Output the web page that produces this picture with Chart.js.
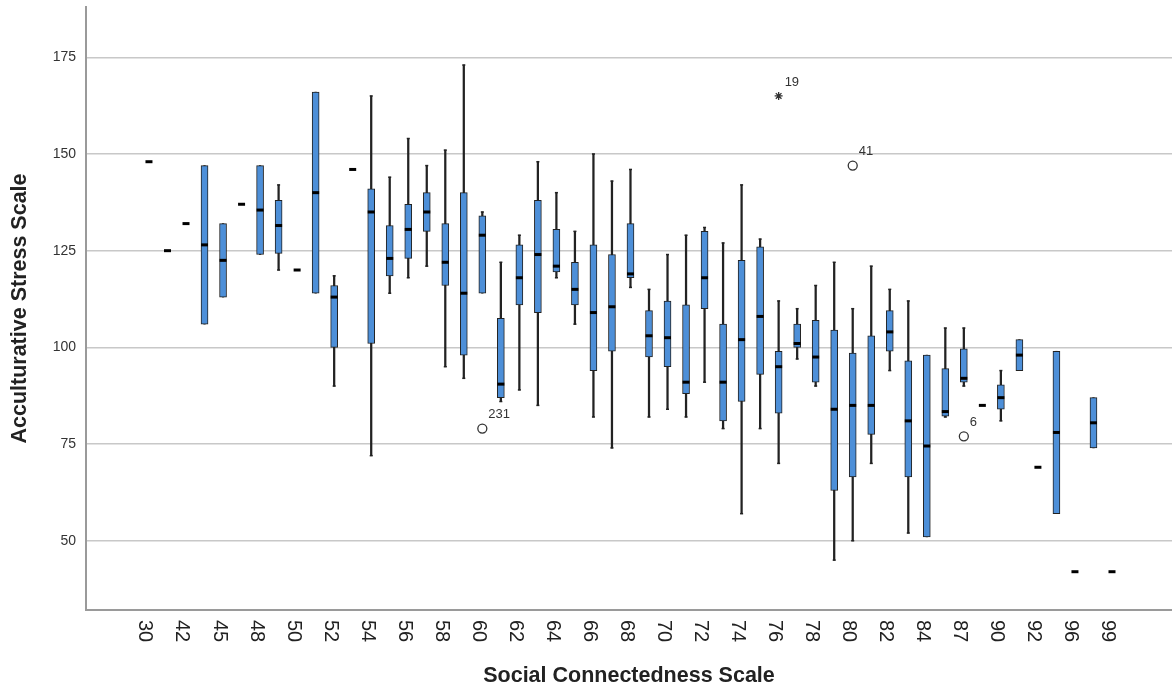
<!DOCTYPE html>
<html>
<head>
<meta charset="utf-8">
<script src="https://cdn.jsdelivr.net/npm/chart.js@4.4.0/dist/chart.umd.min.js"></script>
<style>
  html, body { margin: 0; padding: 0; background: #fff; }
  #wrap { width: 1172px; height: 690px; position: relative; }
</style>
</head>
<body>
<div id="wrap"><canvas id="boxChart"></canvas></div>
<script>
// Social Connectedness Scale groups (only every other one gets a printed label)
const categories = ['30', '41', '42', '44', '45', '47', '48', '49', '50', '51',
  '52', '53', '54', '55', '56', '57', '58', '59', '60', '61',
  '62', '63', '64', '65', '66', '67', '68', '69', '70', '71',
  '72', '73', '74', '75', '76', '77', '78', '79', '80', '81',
  '82', '83', '84', '85', '87', '88', '90', '91', '92', '94',
  '96', '97', '99'];

// box plot statistics per group (null = only one case in the group)
const whiskerLow = [null, null, null, 106, 113, null, 124, 120, null, 114,
  90, null, 72, 114, 118, 121, 95, 92, 114, 86,
  89, 85, 118, 106, 82, 74, 115.5, 82, 84, 82,
  91, 79, 57, 79, 70, 97, 90, 45, 50, 70,
  94, 52, 51, 82, 90, null, 81, 94, null, 57,
  null, 74, null];
const q1 = [null, null, null, 106, 113, null, 124, 124.3, null, 114,
  100, null, 101, 118.5, 123, 130, 116, 98, 114, 87,
  111, 109, 119.5, 111, 94, 99, 118, 97.5, 95, 88,
  110, 81, 86, 93, 83, 100, 91, 63, 66.5, 77.5,
  99, 66.5, 51, 82.2, 91, null, 84, 94, null, 57,
  null, 74, null];
const median = [148, 125, 132, 126.5, 122.5, 137, 135.5, 131.5, 120, 140,
  113, 146, 135, 123, 130.5, 135, 122, 114, 129, 90.5,
  118, 124, 121, 115, 109, 110.5, 119, 103, 102.5, 91,
  118, 91, 102, 108, 95, 101, 97.5, 84, 85, 85,
  104, 81, 74.5, 83.4, 92, 85, 87, 98, 69, 78,
  42, 80.5, 42];
const q3 = [null, null, null, 147, 132, null, 147, 138, null, 166,
  116, null, 141, 131.5, 137, 140, 132, 140, 134, 107.5,
  126.5, 138, 130.5, 122, 126.5, 124, 132, 109.5, 112, 111,
  130, 106, 122.5, 126, 99, 106, 107, 104.5, 98.5, 103,
  109.5, 96.5, 98, 94.5, 99.6, null, 90.3, 102, null, 99,
  null, 87, null];
const whiskerHigh = [null, null, null, 147, 132, null, 147, 142, null, 166,
  118.5, null, 165, 144, 154, 147, 151, 173, 135, 122,
  129, 148, 140, 130, 150, 143, 146, 115, 124, 129,
  131, 127, 142, 128, 112, 110, 116, 122, 110, 121,
  115, 112, 98, 105, 105, null, 94, 102, null, 99,
  null, 87, null];

// outlying cases: group index, value, case id, extreme (*) or not (o)
const outlierGroup = [18, 34, 38, 44];
const outlierValue = [79, 165, 147, 77];
const outlierCase = ['231', '19', '41', '6'];
const outlierExtreme = [false, true, false, false];

const yTicks = [50, 75, 100, 125, 150, 175];

const FONT = "'Liberation Sans', Arial, sans-serif";

const whiskerData = [];
const boxData = [];
const capData = [];
const medianData = [];
categories.forEach((c, i) => {
  medianData.push({ x: i, y: median[i] });
  if (q1[i] === null) return;
  boxData.push({ x: i, y: [q1[i], q3[i]] });
  whiskerData.push({ x: i, y: [whiskerLow[i], whiskerHigh[i]] });
  if (whiskerLow[i] < q1[i]) capData.push({ x: i, y: whiskerLow[i] });
  if (whiskerHigh[i] > q3[i]) capData.push({ x: i, y: whiskerHigh[i] });
});
const outlierData = outlierGroup.map((g, k) => ({ x: g, y: outlierValue[k] }));

// rotated group labels under the axis (reading top to bottom)
const groupLabels = {
  id: 'groupLabels',
  afterDraw(chart) {
    const { ctx, scales: { x } } = chart;
    ctx.save();
    ctx.font = '20px ' + FONT;
    ctx.fillStyle = '#222';
    ctx.textAlign = 'left';
    ctx.textBaseline = 'middle';
    categories.forEach((c, i) => {
      if (i % 2 !== 0) return;
      const px = x.getPixelForValue(i) - 4;
      ctx.save();
      ctx.translate(px, x.top + 10);
      ctx.rotate(Math.PI / 2);
      ctx.fillText(c, 0, 0);
      ctx.restore();
    });
    ctx.restore();
  }
};

// case numbers next to the outliers
const caseLabels = {
  id: 'caseLabels',
  afterDatasetsDraw(chart) {
    const { ctx, scales: { x, y } } = chart;
    ctx.save();
    ctx.font = '13px ' + FONT;
    ctx.fillStyle = '#333';
    ctx.textAlign = 'left';
    ctx.textBaseline = 'middle';
    outlierGroup.forEach((g, k) => {
      const px = x.getPixelForValue(g);
      const py = y.getPixelForValue(outlierValue[k]);
      ctx.fillText(outlierCase[k], px + 6, py - 14);
    });
    ctx.restore();
  }
};

const ctx = document.getElementById('boxChart').getContext('2d');

new Chart(ctx, {
  type: 'bar',
  data: {
    datasets: [
      {
        type: 'scatter',
        data: outlierData,
        pointStyle: outlierExtreme.map(e => e ? 'star' : 'circle'),
        pointRadius: outlierExtreme.map(e => e ? 4 : 4.5),
        borderColor: '#333',
        backgroundColor: 'rgba(255,255,255,0)',
        pointBorderWidth: 1.3,
        order: 0
      },
      {
        type: 'scatter',
        data: medianData,
        pointStyle: 'line',
        pointRadius: 3.5,
        pointBorderWidth: 3,
        borderColor: '#000',
        order: 1
      },
      {
        type: 'scatter',
        data: capData,
        pointStyle: 'line',
        pointRadius: 1.5,
        pointBorderWidth: 1.5,
        borderColor: '#222',
        order: 2
      },
      {
        data: boxData,
        backgroundColor: '#4d8fd8',
        borderColor: '#222',
        borderWidth: 1,
        borderSkipped: false,
        barThickness: 7,
        grouped: false,
        order: 3
      },
      {
        data: whiskerData,
        backgroundColor: '#222',
        borderWidth: 0,
        barThickness: 1.6,
        grouped: false,
        order: 4
      }
    ]
  },
  options: {
    responsive: true,
    maintainAspectRatio: false,
    animation: false,
    events: [],
    layout: { autoPadding: false, padding: { top: 7, left: 0, right: 0, bottom: 0 } },
    plugins: {
      legend: { display: false },
      tooltip: { enabled: false }
    },
    scales: {
      x: {
        type: 'linear',
        min: -3.4,
        max: 55.24,
        offset: false,
        grid: { display: false },
        border: { display: true, color: '#9a9a9a', width: 2 },
        ticks: { display: false },
        title: {
          display: true,
          text: 'Social Connectedness Scale',
          color: '#222',
          font: { family: FONT, size: 21.5, weight: 'bold' },
          padding: { top: 0, bottom: 1 }
        },
        afterFit(scale) {
          scale.height = 80;
          scale.paddingLeft = 0;
          scale.paddingRight = 0;
        }
      },
      y: {
        min: 32.1,
        max: 188,
        afterBuildTicks(scale) { scale.ticks = yTicks.map(v => ({ value: v })); },
        grid: { color: '#c8c8c8', lineWidth: 1.5, drawTicks: false },
        border: { display: true, color: '#9a9a9a', width: 2 },
        ticks: {
          color: '#333',
          padding: 10,
          font: { family: FONT, size: 14 }
        },
        title: {
          display: true,
          text: 'Acculturative Stress Scale',
          color: '#222',
          font: { family: FONT, size: 21.5, weight: 'bold' },
          padding: { top: 7, bottom: 0 }
        },
        afterFit(scale) {
          scale.width = 86;
          scale.paddingTop = 0;
          scale.paddingBottom = 0;
        }
      }
    }
  },
  plugins: [groupLabels, caseLabels]
});
</script>
</body>
</html>
